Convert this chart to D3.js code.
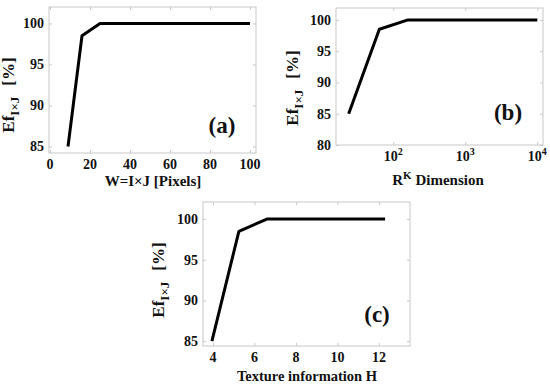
<!DOCTYPE html>
<html>
<head>
<meta charset="utf-8">
<script src="https://cdn.jsdelivr.net/npm/d3@7"></script>
<style>
  body { margin:0; background:#fff; }
</style>
</head>
<body>
<svg width="550" height="386"></svg>
<script>
// panel (a): window size
var pixelsW = [9, 16, 25, 100];
var effA = [85, 98.5, 100, 100];
var ticksA = [0, 20, 40, 60, 80, 100];
var yTicksA = [85, 90, 95, 100];

// panel (b): R^K dimension (log)
var dimK = [24, 64, 160, 10000];
var effB = [85, 98.5, 100, 100];
var ticksB = [100, 1000, 10000];
var yTicksB = [80, 85, 90, 95, 100];

// panel (c): texture information
var textureH = [3.95, 5.25, 6.6, 12.3];
var effC = [85, 98.5, 100, 100];
var ticksC = [4, 6, 8, 10, 12];
var yTicksC = [85, 90, 95, 100];

var svg = d3.select("svg");

// every text in bold Liberation Serif
var txt = function(sel, size)
{
  return sel.style("font-family","'Liberation Serif'")
    .style("font-weight","bold")
    .style("font-size",size+"px")
    .attr("fill","#111");
};

var drawPanel = function(p)
{
  var g = svg.append("g")
    .attr("transform","translate("+p.left+","+p.top+")");

  var xScale = p.log ? d3.scaleLog() : d3.scaleLinear();
  xScale.domain(p.xDomain).range([0,p.width]);
  var yScale = d3.scaleLinear().domain(p.yDomain).range([p.height,0]);

  // frame
  g.append("rect")
    .attr("width",p.width)
    .attr("height",p.height)
    .attr("fill","none")
    .attr("stroke","#c8c8c8")
    .attr("stroke-width",1);

  // small inner ticks on all four sides
  var grey = function(a){ a.select(".domain").remove(); a.selectAll("line").attr("stroke","#c8c8c8"); };
  g.append("g")
    .attr("transform","translate(0,"+p.height+")")
    .call(d3.axisTop(xScale).tickValues(p.xTicks).tickSize(3).tickFormat(""))
    .call(grey);
  g.append("g")
    .call(d3.axisBottom(xScale).tickValues(p.xTicks).tickSize(3).tickFormat(""))
    .call(grey);
  g.append("g")
    .call(d3.axisRight(yScale).tickValues(p.yTicks).tickSize(3).tickFormat(""))
    .call(grey);
  g.append("g")
    .attr("transform","translate("+p.width+",0)")
    .call(d3.axisLeft(yScale).tickValues(p.yTicks).tickSize(3).tickFormat(""))
    .call(grey);

  // y tick labels
  txt(g.selectAll(".ylab")
    .data(p.yTicks)
    .enter()
    .append("text")
    .attr("x",-5)
    .attr("y",function(d){ return yScale(d)+5; })
    .attr("text-anchor","end"), 14)
    .text(function(d){ return d; });

  // x tick labels
  var xl = txt(g.selectAll(".xlab")
    .data(p.xTicks)
    .enter()
    .append("text")
    .attr("x",function(d){ return xScale(d); })
    .attr("y",p.height+16)
    .attr("text-anchor","middle"), 14);
  if (p.log)
  {
    xl.text("10");
    xl.append("tspan")
      .attr("dy",-6)
      .style("font-size","10px")
      .text(function(d){ return Math.round(Math.log10(d)); });
  }
  else
  {
    xl.text(function(d){ return d; });
  }

  // x axis label
  var xt = txt(g.append("text")
    .attr("x",p.xLabelX)
    .attr("y",p.height+p.xLabelDy)
    .attr("text-anchor","middle"), p.xLabelSize);
  p.xLabel(xt);

  // y axis label
  var yt = txt(g.append("text")
    .attr("transform","translate("+p.yLabelX+","+p.yLabelY+") rotate(-90)")
    .attr("text-anchor","middle"), 17);
  yt.append("tspan").text("Ef");
  yt.append("tspan").attr("dy",5).style("font-size","13px").text("I×J");
  yt.append("tspan").attr("dy",-5).attr("dx",11).text("[%]");

  // panel letter
  txt(g.append("text")
    .attr("x",p.tagX)
    .attr("y",p.tagY)
    .attr("text-anchor","middle"), 23)
    .text(p.tag);

  // curve
  var pts = p.xs.map(function(d,i){ return [d,p.ys[i]]; });
  g.append("path")
    .datum(pts)
    .attr("fill","none")
    .attr("stroke","#000")
    .attr("stroke-width",3)
    .attr("stroke-linejoin","round")
    .attr("d",d3.line()
      .x(function(d){ return xScale(d[0]); })
      .y(function(d){ return yScale(d[1]); }));
};

drawPanel({
  left:49, top:7, width:207, height:146,
  xDomain:[-0.5,103], yDomain:[84.2,102], log:false,
  xs:pixelsW, ys:effA, xTicks:ticksA, yTicks:yTicksA,
  xLabelX:104, xLabelDy:33, xLabelSize:15,
  xLabel:function(t){ t.text("W=I×J [Pixels]"); },
  yLabelX:-35, yLabelY:88,
  tag:"(a)", tagX:173, tagY:126
});

drawPanel({
  left:336, top:8, width:207, height:137,
  xDomain:[16,12000], yDomain:[80,101.9], log:true,
  xs:dimK, ys:effB, xTicks:ticksB, yTicks:yTicksB,
  xLabelX:102, xLabelDy:40, xLabelSize:15,
  xLabel:function(t){
    t.append("tspan").text("R");
    t.append("tspan").attr("dy",-6).style("font-size","11px").text("K");
    t.append("tspan").attr("dy",6).text(" Dimension");
  },
  yLabelX:-38, yLabelY:80,
  tag:"(b)", tagX:172, tagY:112
});

drawPanel({
  left:203, top:202, width:207, height:144,
  xDomain:[3.52,13.5], yDomain:[84.4,102.1], log:false,
  xs:textureH, ys:effC, xTicks:ticksC, yTicks:yTicksC,
  xLabelX:104, xLabelDy:35, xLabelSize:14.5,
  xLabel:function(t){ t.text("Texture information H"); },
  yLabelX:-39, yLabelY:78,
  tag:"(c)", tagX:174, tagY:120
});
</script>
</body>
</html>
